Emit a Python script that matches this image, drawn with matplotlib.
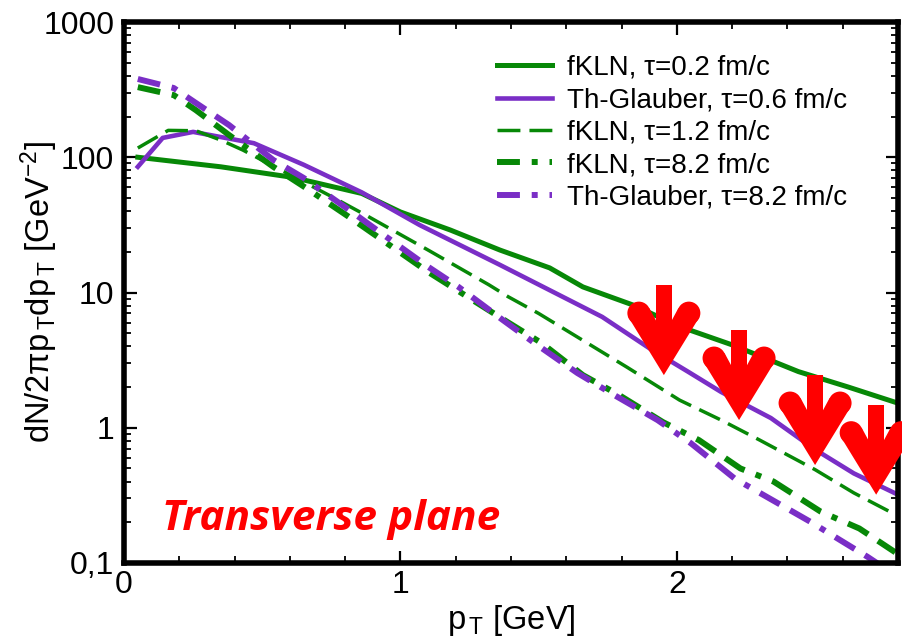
import matplotlib
matplotlib.use("Agg")
import matplotlib.pyplot as plt
import matplotlib.transforms as mtransforms
from matplotlib.patches import Polygon, Rectangle, Circle
from matplotlib.ticker import FixedLocator, MultipleLocator, LogLocator, NullFormatter

plt.rcParams['font.family'] = ['Liberation Sans', 'DejaVu Sans']
plt.rcParams['mathtext.fontset'] = 'custom'
plt.rcParams['mathtext.rm'] = 'Liberation Sans'
plt.rcParams['mathtext.it'] = 'Liberation Sans'
plt.rcParams['lines.scale_dashes'] = False

GREEN = '#078807'
PURPLE = '#7a2ec6'

# fKLN, tau = 0.2 fm/c
fkln02_pt = [0.05, 0.35, 0.61, 0.86, 1.0, 1.18, 1.36, 1.54, 1.66, 1.84, 2.01, 2.2, 2.44, 2.62, 2.8]
fkln02_y = [100, 85, 71, 54, 39.4, 29, 20.6, 15.2, 11, 8.1, 5.6, 4.1, 2.6, 2.0, 1.52]

# Th-Glauber, tau = 0.6 fm/c
glb06_pt = [0.05, 0.14, 0.25, 0.47, 0.65, 0.86, 1.07, 1.36, 1.54, 1.73, 1.91, 2.04, 2.16, 2.34, 2.5, 2.64, 2.8]
glb06_y = [85, 139, 154, 127, 88, 55, 31.5, 16, 10.4, 6.6, 3.76, 2.6, 1.84, 1.18, 0.69, 0.46, 0.32]

# fKLN, tau = 1.2 fm/c
fkln12_pt = [0.05, 0.16, 0.26, 0.35, 0.43, 0.57, 0.74, 0.88, 1.10, 1.32, 1.39, 1.50, 1.82, 2.01, 2.16, 2.30, 2.50, 2.64, 2.78]
fkln12_y = [117, 158, 157, 134, 113, 80, 52.6, 36.8, 20.6, 11.4, 9.3, 7.0, 2.8, 1.6, 1.14, 0.81, 0.49, 0.33, 0.234]

# fKLN, tau = 8.2 fm/c
fkln82_pt = [0.05, 0.18, 0.26, 0.38, 0.54, 0.66, 0.83, 1.10, 1.39, 1.51, 1.66, 1.79, 1.95, 2.08, 2.23, 2.35, 2.52, 2.66, 2.79]
fkln82_y = [330, 288, 223, 146, 85, 59, 34.4, 14.2, 6.0, 4.24, 2.45, 1.75, 1.1, 0.81, 0.50, 0.40, 0.24, 0.18, 0.12]

# Th-Glauber, tau = 8.2 fm/c
glb82_pt = [0.05, 0.18, 0.26, 0.38, 0.54, 0.65, 0.83, 0.93, 1.10, 1.21, 1.37, 1.48, 1.64, 1.76, 1.93, 2.05, 2.21, 2.30, 2.49, 2.59, 2.69, 2.75]
glb82_y = [379, 325, 252, 173, 95.5, 70.3, 38.7, 27.5, 15.5, 11, 6.27, 4.3, 2.54, 1.81, 1.14, 0.77, 0.42, 0.33, 0.198, 0.148, 0.111, 0.092]

# where the red arrows point
arrow_pt = [1.953, 2.225, 2.50, 2.721]
arrow_y = [2.45, 1.14, 0.53, 0.32]

y_ticks = [0.1, 1, 10, 100, 1000]
y_ticklabels = ['0,1', '1', '10', '100', '1000']

fig = plt.figure(figsize=(9.02, 6.43), dpi=100)
ax = fig.add_axes([124 / 902, 1 - 563 / 643, (898 - 124) / 902, (563 - 22) / 643])

dash = (0, (16.5, 6.5))
dashdot = (25, (16.5, 8.5, 16.5, 8.5, 4.3, 8.5))

ax.plot(fkln02_pt, fkln02_y, color=GREEN, lw=3.6, label='fKLN, τ=0.2 fm/c')
ax.plot(glb06_pt, glb06_y, color=PURPLE, lw=3.3, label='Th-Glauber, τ=0.6 fm/c')
ax.plot(fkln12_pt, fkln12_y, color=GREEN, lw=2.5, linestyle=dash, label='fKLN, τ=1.2 fm/c')
ax.plot(fkln82_pt, fkln82_y, color=GREEN, lw=4.3, linestyle=dashdot, label='fKLN, τ=8.2 fm/c')
ax.plot(glb82_pt, glb82_y, color=PURPLE, lw=4.3, linestyle=dashdot, label='Th-Glauber, τ=8.2 fm/c')

ax.set_yscale('log')
ax.set_xlim(0, 2.8)
ax.set_ylim(0.1, 1000)

ax.xaxis.set_major_locator(FixedLocator([0, 1, 2]))
ax.xaxis.set_minor_locator(MultipleLocator(0.2))
ax.yaxis.set_major_locator(FixedLocator(y_ticks))
ax.set_yticklabels(y_ticklabels)
ax.yaxis.set_minor_locator(LogLocator(base=10, subs=range(2, 10)))
ax.yaxis.set_minor_formatter(NullFormatter())

ax.tick_params(which='both', direction='in', top=True, right=True, labelsize=23)
ax.tick_params(which='major', length=9, width=1.6)
ax.tick_params(which='minor', length=5, width=1.3)
ax.tick_params(axis='x', which='major', pad=5)
ax.tick_params(axis='y', which='major', pad=7)
for sp in ax.spines.values():
    sp.set_linewidth(4)

ax.set_xlabel('p$_{\\,\\mathregular{T}}$ [GeV]', fontsize=23.5)
ax.set_ylabel('dN/2πp$_{\\,\\mathregular{T}}$dp$_{\\,\\mathregular{T}}$ [GeV$^{\\mathregular{-2}}$]', fontsize=23.5)
ax.xaxis.set_label_coords(0.5, -(603 - 563) / 541)
ax.yaxis.set_label_coords(-(124 - 60) / 774, 0.5)

ax.legend(loc='upper left', bbox_to_anchor=(497 / 902, 1 - 55 / 643), bbox_transform=fig.transFigure,
          frameon=False, fontsize=20, handlelength=1.98, handletextpad=0.54, labelspacing=0.23,
          borderpad=0, borderaxespad=0)


def draw_arrow(x, y):
    # shape in pixels, tip at the origin, pointing down
    tr = (mtransforms.Affine2D().scale(1 / 100) + fig.dpi_scale_trans
          + mtransforms.ScaledTranslation(x, y, ax.transData))
    parts = [
        Rectangle((-8, 20), 16, 70),
        Polygon([(0, 0), (-35.5, 58), (-14.5, 67), (0, 40), (14.5, 67), (35.5, 58)]),
        Circle((-25, 62), 11.5),
        Circle((25, 62), 11.5),
    ]
    for p in parts:
        p.set_transform(tr)
        p.set_facecolor('#ff0000')
        p.set_edgecolor('none')
        p.set_clip_on(False)
        p.set_zorder(5)
        ax.add_patch(p)


for xa, ya in zip(arrow_pt, arrow_y):
    draw_arrow(xa, ya)

fig.text(162 / 902, 1 - 530 / 643, 'Transverse plane', color='#ff0000', fontsize=30.5,
         fontfamily='Open Sans', fontstyle='italic', fontweight='bold', va='baseline')

fig.savefig('out.png', dpi=100)
